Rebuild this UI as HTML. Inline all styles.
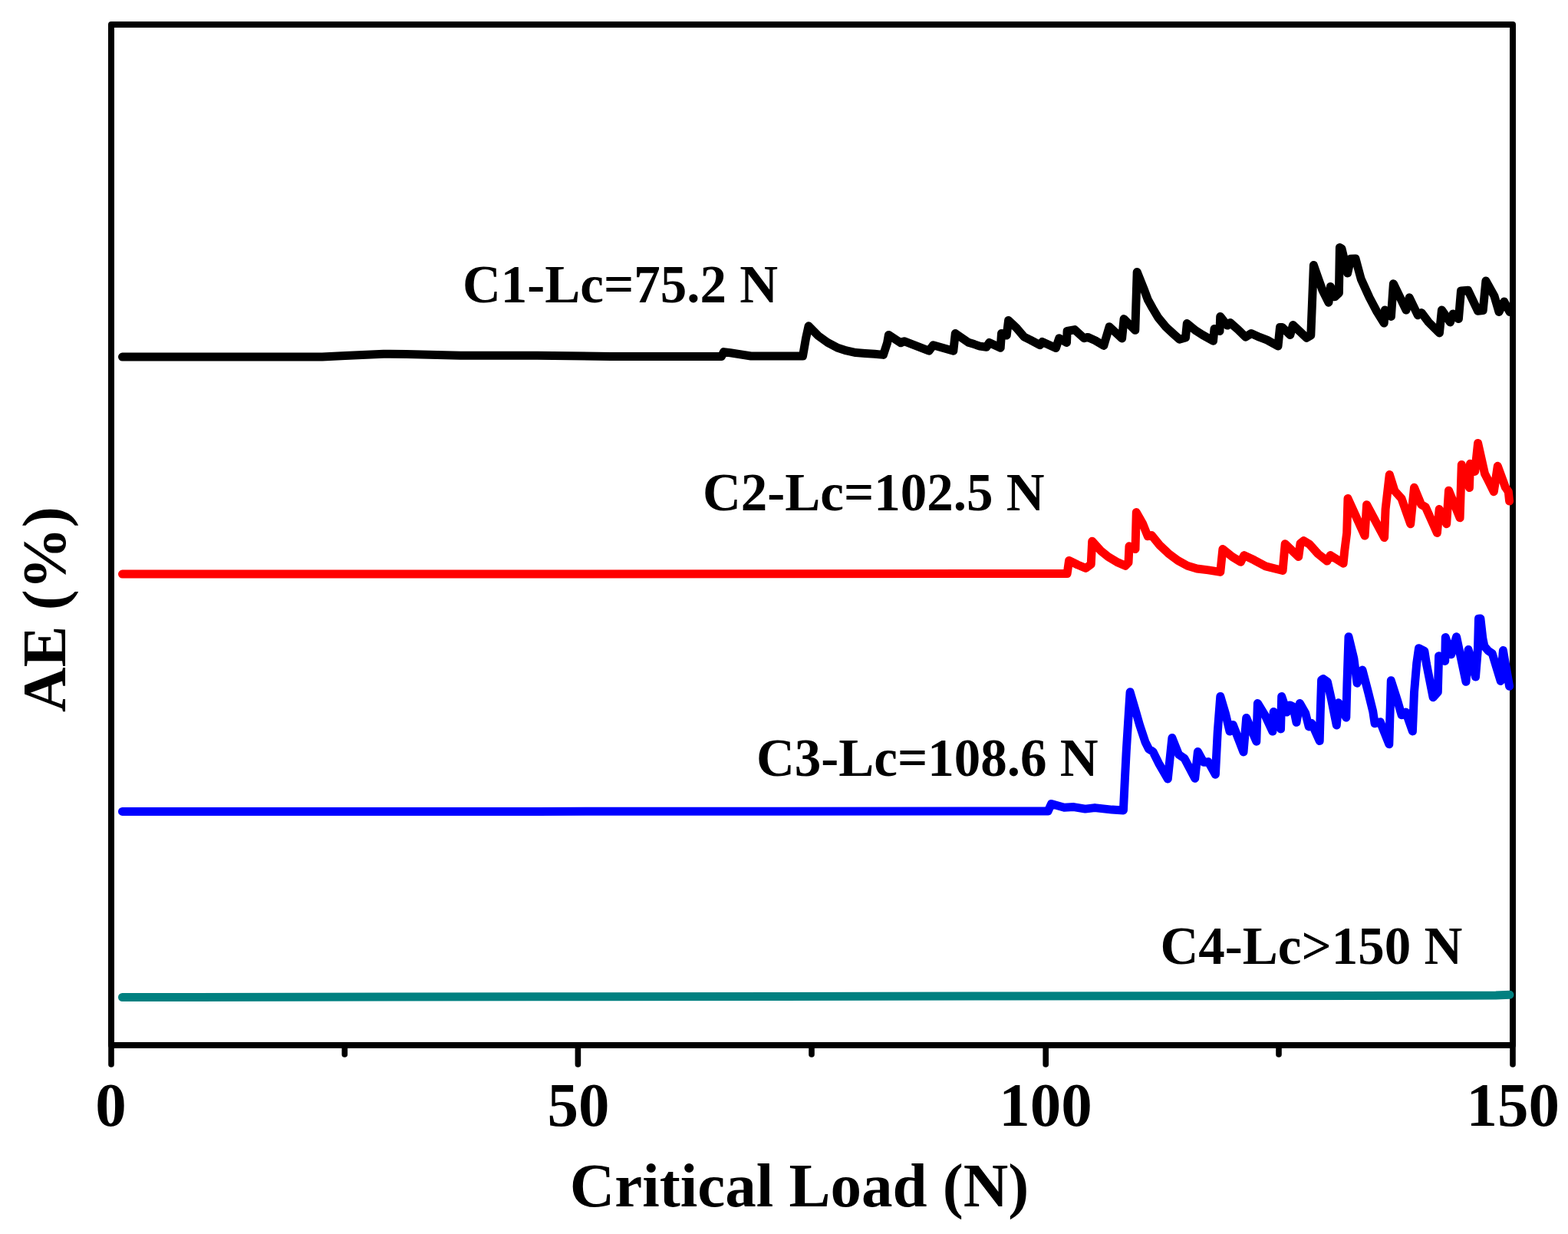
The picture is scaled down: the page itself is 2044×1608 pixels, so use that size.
<!DOCTYPE html>
<html lang="en">
<head>
<meta charset="utf-8">
<title>AE (%) vs Critical Load (N)</title>
<style>
  html, body { margin: 0; padding: 0; background: #ffffff; }
  body { width: 2044px; height: 1608px; overflow: hidden; }
  svg { display: block; }
  text { font-family: "Liberation Serif", serif; font-weight: bold; fill: #000; }
  .ax { font-size: 81px; }
  .lb { font-size: 69px; }
  .curve { fill: none; stroke-width: 11; stroke-linejoin: round; stroke-linecap: round; }
</style>
</head>
<body>
<svg width="2044" height="1608" viewBox="0 0 2044 1608">
  <rect x="0" y="0" width="2044" height="1608" fill="#ffffff"/>

  <!-- frame -->
  <rect x="145" y="32" width="1827" height="1330" fill="none" stroke="#000" stroke-width="8" stroke-linejoin="round"/>

  <!-- ticks -->
  <g stroke="#000" stroke-width="7.6" stroke-linecap="round">
    <line x1="145" y1="1362" x2="145" y2="1387"/>
    <line x1="753.4" y1="1362" x2="753.4" y2="1387"/>
    <line x1="1363.2" y1="1362" x2="1363.2" y2="1387"/>
    <line x1="1972" y1="1362" x2="1972" y2="1387"/>
    <line x1="449.3" y1="1362" x2="449.3" y2="1374"/>
    <line x1="1058" y1="1362" x2="1058" y2="1374"/>
    <line x1="1667" y1="1362" x2="1667" y2="1374"/>
  </g>

  <!-- data curves -->
  <polyline class="curve" stroke="#008080" points="159.5,1299.5 700.0,1298.8 1300.0,1298.0 1900.0,1297.3 1950.0,1297.0 1968.0,1296.3"/>
  <polyline class="curve" stroke="#0000ff" points="159.5,1057.4 700.0,1057.4 1366.2,1056.9 1370.5,1047.5 1387.3,1052.3 1399.8,1051.6 1414.7,1054.1 1427.1,1052.6 1449.5,1055.1 1464.4,1056.0 1466.3,1016.8 1468.2,979.5 1471.3,929.8 1473.1,901.8 1480.6,927.3 1485.6,944.7 1493.0,967.0 1497.4,975.8 1503.0,979.5 1510.4,994.4 1522.3,1015.0 1527.9,961.5 1536.6,983.2 1544.0,988.2 1557.7,1014.3 1561.4,979.5 1568.9,993.2 1575.1,992.6 1584.4,1009.2 1587.2,954.4 1590.8,907.4 1597.4,929.5 1603.0,953.1 1607.3,944.4 1621.0,979.9 1624.7,935.5 1637.8,966.2 1639.4,916.4 1649.6,933.2 1658.9,953.1 1660.2,927.6 1669.5,950.0 1670.7,907.4 1677.6,928.0 1681.3,918.9 1685.7,920.8 1690.0,941.3 1694.4,916.4 1701.8,929.5 1706.2,946.9 1709.9,942.6 1720.2,965.6 1721.2,929.5 1722.6,886.0 1725.0,884.6 1730.4,888.5 1735.4,910.8 1742.3,945.0 1744.9,915.7 1754.8,935.0 1756.0,889.5 1758.0,829.8 1764.9,858.4 1769.1,890.2 1776.0,873.1 1783.5,901.9 1789.7,926.8 1792.1,942.8 1799.3,940.9 1810.8,969.8 1813.3,886.8 1822.1,914.4 1827.1,931.8 1832.7,928.1 1841.4,952.9 1843.5,901.9 1846.7,864.6 1849.5,844.7 1856.9,848.5 1859.4,864.6 1868.1,908.8 1874.3,901.9 1875.6,854.7 1883.7,861.5 1884.3,830.4 1891.7,852.8 1898.6,829.8 1911.0,888.3 1914.1,846.6 1923.5,882.0 1926.5,845.0 1927.5,806.3 1929.9,806.0 1932.9,832.5 1934.9,842.0 1940.0,848.0 1945.2,851.5 1956.2,887.4 1959.4,847.6 1967.6,894.3"/>
  <polyline class="curve" stroke="#ff0000" points="159.5,748.1 700.0,748.0 1388.0,747.5 1391.1,747.5 1393.6,730.4 1404.8,736.0 1415.4,740.4 1422.2,735.4 1423.7,705.3 1434.7,717.4 1444.6,725.5 1457.1,732.9 1467.0,737.3 1471.0,733.0 1472.0,711.8 1480.0,715.5 1481.3,667.6 1489.4,681.9 1496.2,698.7 1501.2,697.5 1511.8,710.5 1523.0,721.1 1535.4,730.4 1547.9,737.3 1560.3,741.0 1575.2,742.9 1590.8,745.4 1593.9,715.5 1606.3,725.5 1617.4,732.3 1621.8,723.6 1634.8,729.8 1649.8,737.9 1672.1,743.5 1675.2,708.7 1692.7,725.5 1695.1,708.1 1699.5,704.7 1707.0,709.3 1718.2,721.7 1730.0,731.1 1734.3,723.6 1751.1,734.2 1752.7,718.0 1755.7,694.4 1757.0,649.6 1779.1,698.1 1781.6,657.7 1804.6,700.6 1806.1,663.3 1811.3,618.5 1818.0,639.6 1827.0,649.6 1838.7,682.7 1843.5,635.3 1852.7,657.5 1858.3,660.8 1873.4,694.4 1876.2,663.6 1885.7,682.7 1888.5,639.2 1903.1,674.8 1905.3,605.4 1915.4,635.6 1916.5,604.3 1922.7,614.4 1926.6,577.4 1935.5,617.2 1940.0,626.1 1947.3,640.7 1952.3,607.3 1962.4,635.0 1966.3,640.7 1967.6,653.0"/>
  <polyline class="curve" stroke="#000000" points="159.5,465.1 250.0,465.1 420.0,465.0 450.0,463.5 500.0,461.2 530.0,461.5 600.0,463.2 700.0,463.2 796.0,464.4 940.5,464.4 943.5,458.6 952.0,459.8 979.0,464.0 1046.5,464.0 1050.5,441.0 1054.1,424.8 1066.7,437.6 1078.9,446.4 1091.2,452.9 1103.4,456.9 1115.6,459.6 1127.8,460.5 1140.1,461.2 1151.5,462.4 1156.6,446.8 1158.4,436.4 1174.3,446.8 1178.6,444.7 1211.0,457.2 1216.5,449.8 1242.8,457.2 1245.3,434.5 1262.4,446.2 1270.0,448.6 1277.3,451.1 1285.9,452.3 1289.6,446.5 1304.2,453.3 1305.5,434.5 1312.2,437.0 1314.6,417.4 1325.0,427.2 1334.8,438.8 1343.4,443.1 1355.6,449.6 1358.7,445.5 1376.4,453.5 1380.7,440.7 1390.5,446.4 1391.1,431.5 1400.9,429.6 1413.1,440.7 1418.0,439.4 1427.8,443.7 1438.8,450.4 1446.1,425.7 1462.6,441.0 1465.1,415.6 1479.8,430.3 1482.2,354.4 1490.8,375.8 1496.3,390.5 1502.4,401.5 1509.7,413.7 1519.8,426.0 1528.3,433.9 1537.5,442.1 1545.5,440.0 1547.3,421.5 1558.9,430.9 1567.5,436.4 1581.5,444.3 1583.0,428.4 1590.0,431.5 1590.7,412.5 1599.9,424.1 1603.6,420.5 1614.0,429.6 1623.7,439.2 1631.1,434.5 1642.1,439.4 1651.9,443.1 1666.0,451.0 1668.5,426.6 1671.5,426.6 1681.8,436.4 1685.5,423.5 1703.2,440.3 1708.8,437.0 1710.6,391.7 1712.4,345.5 1717.9,361.2 1724.0,378.3 1732.0,394.2 1734.4,373.4 1740.0,386.8 1745.4,382.0 1746.4,322.5 1749.0,324.0 1756.6,356.0 1760.8,337.2 1767.0,337.0 1774.2,363.6 1785.3,388.0 1795.0,406.4 1804.2,421.1 1805.4,404.0 1813.4,412.5 1816.4,369.7 1833.0,404.0 1837.2,387.8 1848.2,410.7 1853.1,407.6 1862.3,419.9 1876.4,433.9 1879.4,404.0 1890.4,419.9 1894.1,408.9 1901.4,415.6 1904.5,378.9 1913.7,378.3 1926.5,405.2 1933.2,404.6 1936.9,366.0 1947.9,385.6 1954.0,406.4 1960.8,393.0 1968.0,406.4"/>

  <!-- tick labels -->
  <g class="ax" text-anchor="middle">
    <text x="144.5" y="1467">0</text>
    <text x="754" y="1467">50</text>
    <text x="1363" y="1467">100</text>
    <text x="1972.2" y="1467">150</text>
  </g>

  <!-- axis titles -->
  <text class="ax" x="1042" y="1571.5" text-anchor="middle">Critical Load (N)</text>
  <text class="ax" transform="translate(85 794.2) rotate(-90)" text-anchor="middle">AE (%)</text>

  <!-- curve labels -->
  <g class="lb">
    <text x="603" y="394">C1-Lc=75.2 N</text>
    <text x="916" y="664.5">C2-Lc=102.5 N</text>
    <text x="986" y="1010.5">C3-Lc=108.6 N</text>
    <text x="1512.5" y="1255.5">C4-Lc&gt;150 N</text>
  </g>
</svg>
</body>
</html>
